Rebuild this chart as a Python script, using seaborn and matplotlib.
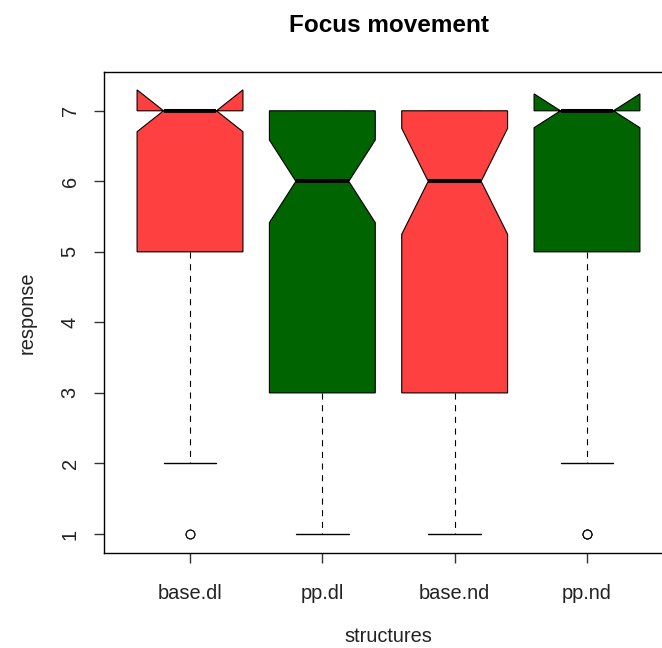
import numpy as np
import pandas as pd
import seaborn as sns
import matplotlib.pyplot as plt

structures = ["base.dl", "pp.dl", "base.nd", "pp.nd"]
levels = [1, 2, 3, 4, 5, 6, 7]
# how many answers at each response level 1..7, per structure
base_dl_counts = [2, 3, 5, 8, 20, 15, 59]
pp_dl_counts = [8, 10, 15, 10, 12, 15, 45]
base_nd_counts = [6, 6, 8, 6, 8, 8, 28]
pp_nd_counts = [3, 4, 8, 12, 25, 20, 99]
box_colors = ["#FF4040", "#006400", "#FF4040", "#006400"]

counts = [base_dl_counts, pp_dl_counts, base_nd_counts, pp_nd_counts]
rows = []
for name, c in zip(structures, counts):
    for lvl, n in zip(levels, c):
        rows += [(name, lvl)] * n
data = pd.DataFrame(rows, columns=["structures", "response"])

sns.set_style("white")
plt.rcParams["font.family"] = ["Liberation Sans", "DejaVu Sans"]

fig = plt.figure(figsize=(6.62, 6.48), dpi=100)
# plot region runs past the right edge, like the cropped original
ax = fig.add_axes([104 / 662, 1 - 553 / 648, 569 / 662, 481 / 648])

sns.boxplot(data=data, x="structures", y="response", hue="structures",
            order=structures, hue_order=structures, palette=box_colors,
            saturation=1, notch=True, width=0.8, whis=1.5,
            linecolor="black", linewidth=0.8, legend=False, ax=ax,
            medianprops={"color": "black", "linewidth": 2.9},
            whiskerprops={"color": "black", "linewidth": 0.8,
                          "linestyle": (0, (5.5, 5)), "zorder": 0.5},
            capprops={"color": "black", "linewidth": 1.0, "zorder": 0.5},
            flierprops={"marker": "o", "markersize": 6.3,
                        "markerfacecolor": "white",
                        "markeredgecolor": "black",
                        "markeredgewidth": 0.8})

ax.set_xlim(-0.65, 3.65)
ax.set_ylim(0.73, 7.55)
ax.set_yticks(levels)
ax.set_xticks(range(len(structures)))
ax.set_xticklabels(structures)

for s in ax.spines.values():
    s.set_visible(True)
    s.set_color("black")
    s.set_linewidth(1.0)

ax.tick_params(axis="both", direction="out", length=7.5, width=1,
               color="#333333", labelsize=14.4, labelcolor="#222222",
               bottom=True, left=True)
ax.tick_params(axis="x", pad=15)
ax.tick_params(axis="y", pad=10, labelrotation=90)
plt.setp(ax.get_yticklabels(), va="center")

ax.set_xlabel("structures", fontsize=14.4, color="#222222", va="center")
ax.set_ylabel("response", fontsize=14.4, color="#222222", va="center")
ax.xaxis.set_label_coords(0.5, -(636 - 553) / 481)
ax.yaxis.set_label_coords(-(104 - 27) / 569, 0.5)

fig.text(388.5 / 662, 1 - 25 / 648, "Focus movement", ha="center",
         va="center", fontsize=17.5, fontweight="bold", color="black")

fig.savefig("out.png", dpi=100)
